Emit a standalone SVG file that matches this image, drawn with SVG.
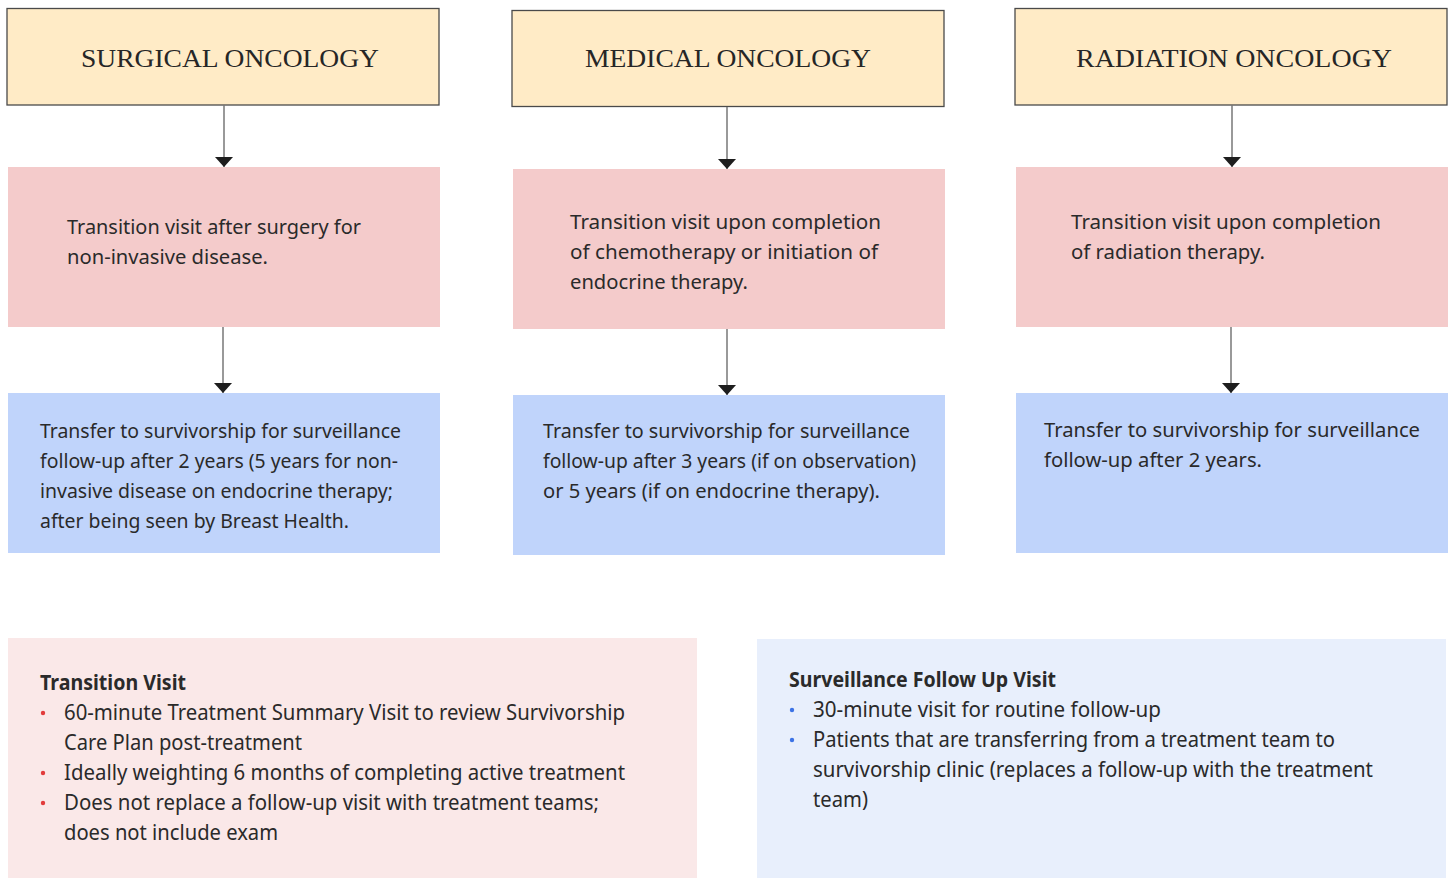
<svg xmlns="http://www.w3.org/2000/svg" width="1450" height="878" viewBox="0 0 1450 878">
<defs>
<style>
.hdr{fill:#FFEBC6;stroke:#4a4a4a;stroke-width:1.3}
.pink{fill:#F4CBCB}
.blue{fill:#C0D4FB}
.lp{fill:#FAE8E8}
.lb{fill:#E8EFFC}
.ht{font-family:"Liberation Serif","DejaVu Serif",serif;font-size:26px;fill:#262626;text-anchor:middle}
.bt{font-family:"Noto Sans","Open Sans",sans-serif;font-size:20px;fill:#2a2a2a}
.lt{font-family:"Noto Sans","Open Sans",sans-serif;font-size:21px;fill:#2a2a2a}
.lh{font-family:"Noto Sans","Open Sans",sans-serif;font-size:21px;font-weight:bold;fill:#2a2a2a}
.conn{stroke:#777;stroke-width:1.5;fill:none;marker-end:url(#ah)}
.rb{fill:#E23B3B}
.bb{fill:#3C73E6}
</style>
<marker id="ah" markerUnits="userSpaceOnUse" markerWidth="12" markerHeight="20" refX="10" refY="9" orient="auto">
<path d="M0,0 L10,9 L0,18 z" fill="#1e1e1e"/>
</marker>
</defs>
<rect width="1450" height="878" fill="#ffffff"/>

<g id="surgical-header">
<rect class="hdr" x="7" y="8.5" width="432" height="96.5"/>
<text class="ht" x="230" y="67" textLength="298" lengthAdjust="spacingAndGlyphs">SURGICAL ONCOLOGY</text>
</g>
<g id="medical-header">
<rect class="hdr" x="512" y="10.5" width="432" height="96"/>
<text class="ht" x="728" y="67" textLength="286" lengthAdjust="spacingAndGlyphs">MEDICAL ONCOLOGY</text>
</g>
<g id="radiation-header">
<rect class="hdr" x="1015" y="8.5" width="432" height="96.5"/>
<text class="ht" x="1234" y="67" textLength="316" lengthAdjust="spacingAndGlyphs">RADIATION ONCOLOGY</text>
</g>

<g id="surgical-transition">
<rect class="pink" x="8" y="167" width="432" height="160"/>
<text class="bt" x="67" y="234" textLength="294" lengthAdjust="spacingAndGlyphs">Transition visit after surgery for</text>
<text class="bt" x="67" y="264" textLength="201" lengthAdjust="spacingAndGlyphs">non-invasive disease.</text>
</g>
<g id="medical-transition">
<rect class="pink" x="513" y="169" width="432" height="160"/>
<text class="bt" x="570" y="229" textLength="311" lengthAdjust="spacingAndGlyphs">Transition visit upon completion</text>
<text class="bt" x="570" y="259" textLength="308" lengthAdjust="spacingAndGlyphs">of chemotherapy or initiation of</text>
<text class="bt" x="570" y="289" textLength="178" lengthAdjust="spacingAndGlyphs">endocrine therapy.</text>
</g>
<g id="radiation-transition">
<rect class="pink" x="1016" y="167" width="432" height="160"/>
<text class="bt" x="1071" y="229" textLength="310" lengthAdjust="spacingAndGlyphs">Transition visit upon completion</text>
<text class="bt" x="1071" y="259" textLength="194" lengthAdjust="spacingAndGlyphs">of radiation therapy.</text>
</g>

<g id="surgical-transfer">
<rect class="blue" x="8" y="393" width="432" height="160"/>
<text class="bt" x="40" y="438" textLength="361" lengthAdjust="spacingAndGlyphs">Transfer to survivorship for surveillance</text>
<text class="bt" x="40" y="468" textLength="358" lengthAdjust="spacingAndGlyphs">follow-up after 2 years (5 years for non-</text>
<text class="bt" x="40" y="498" textLength="353" lengthAdjust="spacingAndGlyphs">invasive disease on endocrine therapy;</text>
<text class="bt" x="40" y="528" textLength="309" lengthAdjust="spacingAndGlyphs">after being seen by Breast Health.</text>
</g>
<g id="medical-transfer">
<rect class="blue" x="513" y="395" width="432" height="160"/>
<text class="bt" x="543" y="438" textLength="367" lengthAdjust="spacingAndGlyphs">Transfer to survivorship for surveillance</text>
<text class="bt" x="543" y="468" textLength="373" lengthAdjust="spacingAndGlyphs">follow-up after 3 years (if on observation)</text>
<text class="bt" x="543" y="498" textLength="337" lengthAdjust="spacingAndGlyphs">or 5 years (if on endocrine therapy).</text>
</g>
<g id="radiation-transfer">
<rect class="blue" x="1016" y="393" width="432" height="160"/>
<text class="bt" x="1044" y="437" textLength="376" lengthAdjust="spacingAndGlyphs">Transfer to survivorship for surveillance</text>
<text class="bt" x="1044" y="467" textLength="218" lengthAdjust="spacingAndGlyphs">follow-up after 2 years.</text>
</g>

<g id="transition-visit-legend">
<rect class="lp" x="8" y="638" width="689" height="240"/>
<text class="lh" x="40" y="690" textLength="146" lengthAdjust="spacingAndGlyphs">Transition Visit</text>
<circle class="rb" cx="43" cy="713" r="2.2"/>
<text class="lt" x="64" y="720" textLength="561" lengthAdjust="spacingAndGlyphs">60-minute Treatment Summary Visit to review Survivorship</text>
<text class="lt" x="64" y="750" textLength="238" lengthAdjust="spacingAndGlyphs">Care Plan post-treatment</text>
<circle class="rb" cx="43" cy="773" r="2.2"/>
<text class="lt" x="64" y="780" textLength="561" lengthAdjust="spacingAndGlyphs">Ideally weighting 6 months of completing active treatment</text>
<circle class="rb" cx="43" cy="803" r="2.2"/>
<text class="lt" x="64" y="810" textLength="535" lengthAdjust="spacingAndGlyphs">Does not replace a follow-up visit with treatment teams;</text>
<text class="lt" x="64" y="840" textLength="214" lengthAdjust="spacingAndGlyphs">does not include exam</text>
</g>
<g id="surveillance-legend">
<rect class="lb" x="757" y="639" width="689" height="239"/>
<text class="lh" x="789" y="687" textLength="267" lengthAdjust="spacingAndGlyphs">Surveillance Follow Up Visit</text>
<circle class="bb" cx="792" cy="710" r="2.2"/>
<text class="lt" x="813" y="717" textLength="348" lengthAdjust="spacingAndGlyphs">30-minute visit for routine follow-up</text>
<circle class="bb" cx="792" cy="740" r="2.2"/>
<text class="lt" x="813" y="747" textLength="522" lengthAdjust="spacingAndGlyphs">Patients that are transferring from a treatment team to</text>
<text class="lt" x="813" y="777" textLength="560" lengthAdjust="spacingAndGlyphs">survivorship clinic (replaces a follow-up with the treatment</text>
<text class="lt" x="813" y="807" textLength="55" lengthAdjust="spacingAndGlyphs">team)</text>
</g>

<g id="connectors">
<line class="conn" x1="224" y1="105" x2="224" y2="167"/>
<line class="conn" x1="223" y1="327" x2="223" y2="393"/>
<line class="conn" x1="727" y1="107" x2="727" y2="169"/>
<line class="conn" x1="727" y1="329" x2="727" y2="395"/>
<line class="conn" x1="1232" y1="105" x2="1232" y2="167"/>
<line class="conn" x1="1231" y1="327" x2="1231" y2="393"/>
</g>
</svg>
